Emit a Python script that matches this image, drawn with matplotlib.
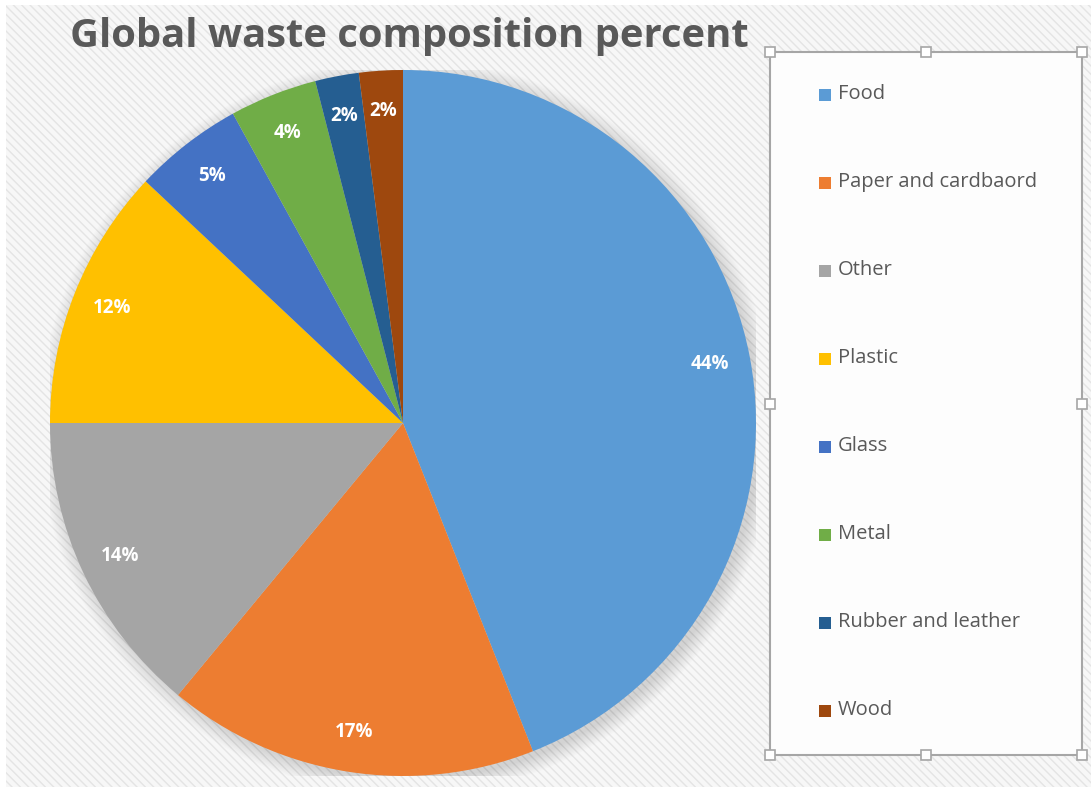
import matplotlib
matplotlib.use("Agg")
import matplotlib.pyplot as plt
from matplotlib.patches import Rectangle, Circle

categories = ["Food", "Paper and cardbaord", "Other", "Plastic", "Glass",
              "Metal", "Rubber and leather", "Wood"]
values = [44, 17, 14, 12, 5, 4, 2, 2]
colors = ["#5B9BD5", "#ED7D31", "#A5A5A5", "#FFC000", "#4472C4",
          "#70AD47", "#255E91", "#9E480E"]
title = "Global waste composition percent"

W, H = 1091, 787
fig = plt.figure(figsize=(W / 100, H / 100), dpi=100)
fig.patch.set_facecolor("white")

# hatched background
bg = fig.add_axes([6 / W, 0, 1 - 6 / W, 1 - 5 / H])
bg.set_axis_off()
bg.add_patch(Rectangle((0, 0), 1, 1, transform=bg.transAxes, facecolor="#f7f7f7",
                       edgecolor="#e4e4e4", hatch="\\\\\\\\", linewidth=0))

def fx(x): return x / W
def fy(y): return 1 - y / H

# legend box
lx0, lx1, ly0, ly1 = 770, 1082, 52, 755
fig.patches.append(Rectangle((fx(lx0), fy(ly1)), fx(lx1) - fx(lx0), fy(ly0) - fy(ly1),
                             transform=fig.transFigure, facecolor="#fdfdfd",
                             edgecolor="#a6a6a6", linewidth=1.5, zorder=1))
for hx in (lx0, (lx0 + lx1) / 2, lx1):
    for hy in (ly0, (ly0 + ly1) / 2, ly1):
        if hx == (lx0 + lx1) / 2 and hy == (ly0 + ly1) / 2:
            continue
        fig.patches.append(Rectangle((fx(hx - 5), fy(hy + 5)), 10 / W, 10 / H,
                                     transform=fig.transFigure, facecolor="white",
                                     edgecolor="#a6a6a6", linewidth=1.2, zorder=2))

for i, (cat, col) in enumerate(zip(categories, colors)):
    yc = 95 + i * 88
    fig.patches.append(Rectangle((fx(819), fy(yc + 6)), 12 / W, 12 / H,
                                 transform=fig.transFigure, facecolor=col,
                                 edgecolor="none", zorder=3))
    fig.text(fx(838), fy(yc - 1), cat, fontsize=14.5, color="#595959",
             va="center", ha="left", family="Open Sans", zorder=3)

# pie
cx, cy, r = 403, 423, 353
ax = fig.add_axes([fx(cx - r), fy(cy + r), 2 * r / W, 2 * r / H])
ax.set_axis_off()
for k in range(12):
    ax.add_patch(Circle((0.012, -0.012), 1.0 + 0.004 * k, facecolor="black",
                        alpha=0.012, edgecolor="none", zorder=0))
wedges, texts, autotexts = ax.pie(values, colors=colors, startangle=90,
                                  counterclock=False, radius=1.0,
                                  autopct=lambda p: f"{p:.0f}%", pctdistance=0.885,
                                  wedgeprops=dict(linewidth=0),
                                  textprops=dict(color="white", fontsize=13.5,
                                                 fontweight="bold", family="Open Sans"))
ax.set_xlim(-1, 1)
ax.set_ylim(-1, 1)
ax.set_aspect("auto")

fig.text(fx(409), fy(36), title, fontsize=28.8, fontweight="bold", color="#595959",
         ha="center", va="center", family="Open Sans")

fig.savefig("out.png", dpi=100, facecolor=fig.get_facecolor())
